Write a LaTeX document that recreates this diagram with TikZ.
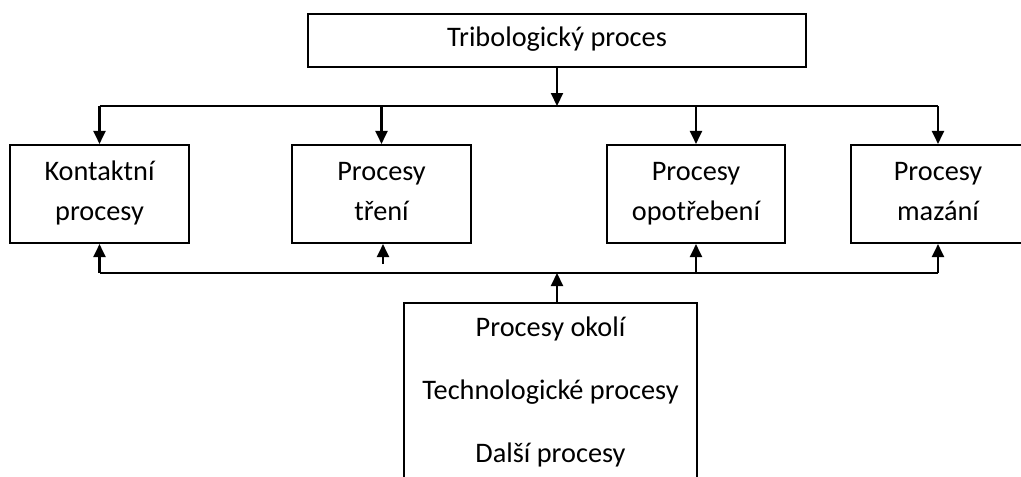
\documentclass[tikz,border=0pt]{standalone}
\usepackage{fontspec}
\setmainfont{Carlito}
\usetikzlibrary{arrows.meta,calc}
\newcommand{\ls}{\rule[-8pt]{0pt}{28pt}}
\begin{document}
\begin{tikzpicture}[x=1pt,y=-1pt,
  box/.style={draw,line width=2.1pt,align=center,inner sep=0pt,
    font=\fontsize{28.3}{40}\selectfont},
  arr/.style={line width=2.1pt,-{Triangle[width=12pt,length=13pt]}},
  ln/.style={line width=2.1pt}]
\clip (0,0) rectangle (1021,477);
\fill[white] (0,0) rectangle (1021,477);
\node[box,minimum width=498pt,minimum height=53pt] (top) at (557,40.5) {\ls Tribologický proces};
\node[box,minimum width=179pt,minimum height=98pt] (k) at (99.5,194) {\ls Kontaktní\\\ls procesy};
\node[box,minimum width=179pt,minimum height=98pt] (t) at (381.5,194) {\ls Procesy\\\ls tření};
\node[box,minimum width=178pt,minimum height=98pt] (o) at (696,194) {\ls Procesy\\\ls opotřebení};
\node[box,minimum width=174pt,minimum height=98pt] (m) at (938,194) {\ls Procesy\\\ls mazání};
\node[box,minimum width=293pt,minimum height=180pt,
  font=\fontsize{28.3}{63}\selectfont] (bot) at (550.5,393)
  {\ls Procesy okolí\\\ls Technologické procesy\\\ls Další procesy};
\coordinate (bus1) at (557,106);
\coordinate (bus2) at (557,273);
\coordinate (tr) at (383,264);
% top distribution
\draw[arr] (top.south) -- (bus1);
\draw[ln] (k.north |- bus1) -- (m.north |- bus1);
\draw[arr] (k.north |- bus1) -- (k.north);
\draw[arr] (t.north |- bus1) -- (t.north);
\draw[arr] (o.north |- bus1) -- (o.north);
\draw[arr] (m.north |- bus1) -- (m.north);
% bottom collection
\draw[arr] (bot.north -| bus2) -- (bus2);
\draw[ln] (k.south |- bus2) -- (m.south |- bus2);
\draw[arr] (k.south |- bus2) -- (k.south);
\draw[arr] (tr) -- (t.south -| tr);
\draw[arr] (o.south |- bus2) -- (o.south);
\draw[arr] (m.south |- bus2) -- (m.south);
\end{tikzpicture}
\end{document}
